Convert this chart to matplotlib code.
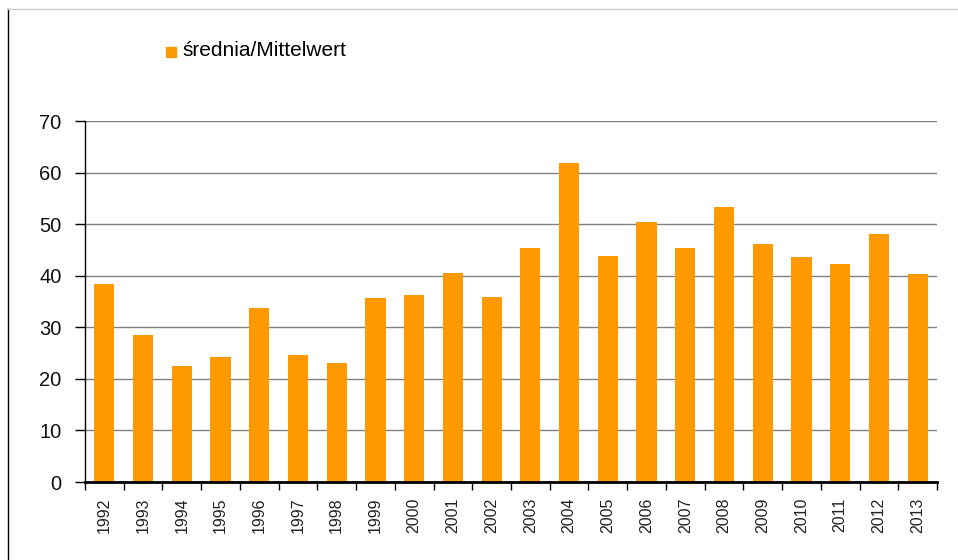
import matplotlib
matplotlib.use("Agg")
import matplotlib.pyplot as plt
from matplotlib.patches import Rectangle
from matplotlib.lines import Line2D

years = [str(y) for y in range(1992, 2014)]
values = [38.3, 28.6, 22.4, 24.3, 33.8, 24.7, 23.0, 35.6, 36.3, 40.6, 35.8,
          45.3, 61.9, 43.9, 50.5, 45.4, 53.4, 46.2, 43.7, 42.3, 48.0, 40.4]
series_name = "średnia/Mittelwert"
yticks = [0, 10, 20, 30, 40, 50, 60, 70]

plt.rcParams['font.family'] = ['Liberation Sans', 'DejaVu Sans']

fig = plt.figure(figsize=(9.58, 5.6), dpi=100)
W, H = 958, 560
ax = fig.add_axes([85 / W, 1 - 482 / H, (937 - 85) / W, (482 - 121) / H])

x = list(range(len(years)))
ax.bar(x, values, width=0.52, color="#FF9900", zorder=3, label=series_name)
ax.set_xlim(-0.5, len(years) - 0.5)
ax.set_ylim(0, 70)
ax.set_yticks(yticks)
ax.set_yticklabels([str(v) for v in yticks], fontsize=14.5, color="#111111")
ax.yaxis.grid(True, color="#808080", linewidth=1.0, zorder=0)
ax.set_axisbelow(True)

ax.set_xticks(x)
ax.set_xticklabels(years, rotation=90, fontsize=11.5, color="#222222")
ax.tick_params(axis='x', length=0, pad=11)
# boundary ticks between categories
ax.set_xticks([i - 0.5 for i in range(len(years) + 1)], minor=True)
ax.tick_params(axis='x', which='minor', length=6, width=1, color="#000000")
ax.tick_params(axis='y', length=7, width=1, pad=10)

for s in ['top', 'right']:
    ax.spines[s].set_visible(False)
ax.spines['left'].set_color('#000000')
ax.spines['left'].set_linewidth(1.0)
ax.spines['bottom'].set_color('#000000')
ax.spines['bottom'].set_linewidth(2.0)
ax.spines['bottom'].set_zorder(4)

# legend
fig.patches.append(Rectangle((166 / W, 1 - 57 / H), 10 / W, 10 / H,
                             transform=fig.transFigure, color="#FF9900"))
fig.text(182 / W, 1 - 51 / H, series_name, fontsize=15, va='center', ha='left')

# frame lines
fig.lines.append(Line2D([8 / W, 8 / W], [0, 1 - 9 / H], transform=fig.transFigure,
                        color="#000000", linewidth=1.0))
fig.lines.append(Line2D([8 / W, 1], [1 - 9 / H, 1 - 9 / H], transform=fig.transFigure,
                        color="#cccccc", linewidth=1.0))

fig.savefig("out.png", dpi=100)
